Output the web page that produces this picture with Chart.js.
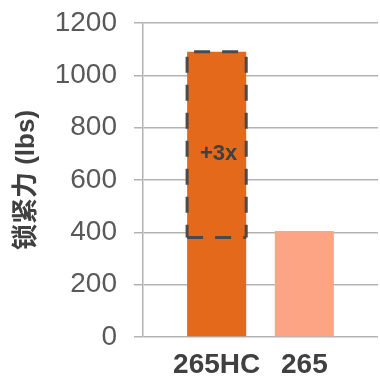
<!DOCTYPE html>
<html>
<head>
<meta charset="utf-8">
<script src="https://cdn.jsdelivr.net/npm/chart.js@4/dist/chart.umd.min.js"></script>
<style>
  html, body { margin: 0; padding: 0; background: #ffffff; }
  #wrap { width: 380px; height: 379px; }
</style>
</head>
<body>
<div id="wrap"><canvas id="c"></canvas></div>
<script>
// Clamping force of the two models (lbs)
const categories = ['265HC', '265'];
const clampForce = [1090, 405];
const barColors = ['#E4691A', '#FCA484'];

// Range shown by the dashed outline on the first bar, and its label
const gainRange = [380, 1090];
const gainLabel = '+3x';
const gainLabelAt = 700;

const yTicks = { min: 0, max: 1200, step: 200 };
const yTitle = '锁紧力 (lbs)';

const FONT = "'Liberation Sans', Arial, 'Noto Sans CJK SC', sans-serif";
const GRID = '#b3b3b3';

// Dashed outline and ratio label drawn over the first bar
const gainOutline = {
  id: 'gainOutline',
  afterDatasetsDraw(chart) {
    const bar = chart.getDatasetMeta(0).data[0];
    if (!bar) return;
    const y = chart.scales.y;
    const { x, width } = bar.getProps(['x', 'width'], true);
    const left = x - width / 2, right = x + width / 2;
    const top = y.getPixelForValue(gainRange[1]);
    const bottom = y.getPixelForValue(gainRange[0]);
    const ctx = chart.ctx;
    ctx.save();
    ctx.strokeStyle = '#4a4a4a';
    ctx.lineWidth = 3;
    ctx.setLineDash([16, 12]);
    const side = (x1, y1, x2, y2, off) => {
      ctx.lineDashOffset = off;
      ctx.beginPath(); ctx.moveTo(x1, y1); ctx.lineTo(x2, y2); ctx.stroke();
    };
    side(left, top, right, top, 21);
    side(left, top, left, bottom, 23);
    side(right, top, right, bottom, 23);
    side(left, bottom, right, bottom, 0);
    ctx.setLineDash([]);
    ctx.fillStyle = '#404040';
    ctx.font = 'bold 22px ' + FONT;
    ctx.textAlign = 'center';
    ctx.textBaseline = 'middle';
    ctx.fillText(gainLabel, x + 2, y.getPixelForValue(gainLabelAt));
    ctx.restore();
  }
};

new Chart(document.getElementById('c'), {
  type: 'bar',
  data: {
    datasets: [{
      data: categories.map((c, i) => ({ x: i, y: clampForce[i] })),
      backgroundColor: barColors,
      borderWidth: 0,
      barPercentage: 0.674,
      categoryPercentage: 1
    }]
  },
  options: {
    responsive: true,
    maintainAspectRatio: false,
    animation: false,
    devicePixelRatio: 1,
    layout: { padding: { left: 0, right: 2, top: 23, bottom: 0 } },
    plugins: { legend: { display: false }, tooltip: { enabled: false } },
    scales: {
      x: {
        type: 'linear',
        offset: false,
        min: -0.84,
        max: 1.84,
        afterBuildTicks(scale) {
          scale.ticks = categories.map((c, i) => ({ value: i }));
        },
        afterFit(scale) {
          scale.height = 42;
          scale.paddingLeft = 0;
          scale.paddingRight = 0;
        },
        grid: { display: false, drawTicks: false },
        border: { display: false },
        ticks: {
          callback: (v) => categories[v],
          color: '#404040',
          padding: 14,
          maxRotation: 0,
          autoSkip: false,
          font: { family: FONT, size: 28, weight: 'bold', lineHeight: 1 }
        }
      },
      y: {
        min: yTicks.min,
        max: yTicks.max,
        afterFit(scale) {
          scale.width = 143;
          scale.paddingTop = 0;
          scale.paddingBottom = 0;
        },
        grid: { color: GRID, lineWidth: 1.5, tickLength: 9, drawTicks: true },
        border: { display: true, color: GRID, width: 1.5 },
        ticks: {
          stepSize: yTicks.step,
          callback: (v) => String(v),
          color: '#595959',
          padding: 17,
          font: { family: FONT, size: 28 }
        },
        title: {
          display: true,
          text: yTitle,
          color: '#404040',
          padding: { top: 11, bottom: 11 },
          font: { family: FONT, size: 26, weight: 'bold' }
        }
      }
    }
  },
  plugins: [gainOutline]
});
</script>
</body>
</html>
